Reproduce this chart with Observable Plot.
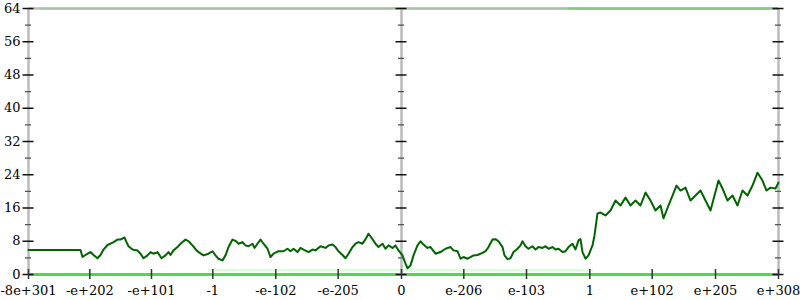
<!DOCTYPE html>
<html>
<head>
<meta charset="utf-8">
<script src="https://cdn.jsdelivr.net/npm/d3@7"></script>
<script src="https://cdn.jsdelivr.net/npm/@observablehq/plot@0.6"></script>
<style>
  html, body { margin: 0; padding: 0; background: #fff; }
  #chart svg { display: block; }
</style>
</head>
<body>
<div id="chart"></div>
<script>
// x positions of the tick labels (bucket index along the axis, 0..750)
const xTickPos = [0, 61.3, 123, 184.3, 247.3, 309.7, 373, 435.3, 498, 561.3, 623.7, 687, 750];
const xTickLabels = ["-8e+301", "-e+202", "-e+101", "-1", "-e-102", "-e-205", "0", "e-206", "e-103", "1", "e+102", "e+205", "e+308"];
const yMajor = [0, 8, 16, 24, 32, 40, 48, 56, 64];
const yMinor = [4, 12, 20, 28, 36, 44, 52, 60];

// dark green series
const lineX = [0, 52, 54, 57, 62, 65, 69, 72, 75, 79, 82, 85, 89, 92, 96, 98, 100, 104, 109, 112, 115, 119, 122, 125, 129, 133, 137, 140, 142, 145, 149, 152, 157, 160, 164, 168, 170, 175, 180, 184, 187, 190, 194, 197, 200, 204, 207, 210, 214, 217, 220, 224, 226, 229, 232, 235, 239, 242, 245, 250, 255, 259, 262, 265, 269, 272, 275, 280, 284, 287, 292, 297, 300, 304, 307, 310, 314, 317, 320, 324, 327, 330, 334, 337, 340, 344, 347, 350, 354, 357, 360, 364, 367, 370, 374, 377, 379, 382, 385, 389, 392, 395, 399, 402, 407, 412, 417, 422, 425, 429, 432, 435, 439, 442, 445, 449, 454, 457, 460, 464, 467, 470, 474, 476, 479, 482, 485, 489, 492, 494, 497, 500, 504, 507, 510, 514, 517, 520, 524, 527, 530, 534, 537, 540, 544, 547, 550, 552, 554, 557, 560, 564, 566, 569, 572, 577, 582, 587, 592, 597, 602, 607, 612, 617, 622, 627, 632, 635, 640, 644, 648, 652, 657, 662, 667, 672, 677, 682, 686, 690, 694, 699, 704, 709, 714, 719, 724, 729, 734, 738, 742, 747, 750];
const lineY = [5.9, 5.9, 4.2, 4.7, 5.4, 4.7, 3.9, 4.7, 6.0, 7.1, 7.4, 7.8, 8.4, 8.4, 8.9, 7.8, 6.8, 6.0, 5.8, 5.0, 3.9, 4.6, 5.4, 5.0, 5.4, 3.9, 4.6, 5.4, 4.7, 5.8, 6.6, 7.4, 8.4, 8.0, 7.0, 5.8, 5.4, 4.6, 5.0, 5.6, 4.6, 3.8, 3.4, 4.6, 6.6, 8.4, 8.1, 7.4, 7.8, 7.0, 6.8, 7.4, 6.4, 7.4, 8.4, 7.4, 6.2, 4.2, 5.0, 5.6, 5.6, 6.2, 5.6, 6.2, 5.4, 6.4, 6.0, 5.4, 6.0, 5.8, 6.8, 6.4, 7.0, 7.2, 6.6, 5.6, 4.7, 3.9, 5.0, 6.6, 7.4, 7.8, 7.4, 8.5, 9.8, 8.5, 7.4, 6.6, 7.4, 6.2, 7.0, 6.4, 7.0, 5.8, 4.6, 2.6, 1.5, 2.2, 4.6, 7.0, 8.0, 7.2, 6.4, 6.6, 5.0, 5.4, 6.2, 6.6, 5.8, 5.6, 3.8, 4.2, 3.8, 4.2, 4.6, 4.7, 5.2, 5.6, 6.6, 8.4, 8.5, 8.0, 6.6, 4.6, 3.7, 3.9, 5.4, 6.2, 7.0, 8.0, 6.8, 6.2, 6.8, 6.0, 6.6, 6.4, 6.8, 6.2, 6.6, 6.0, 6.2, 5.4, 5.6, 6.6, 7.4, 6.0, 8.2, 8.5, 5.4, 3.8, 4.6, 7.0, 9.4, 14.7, 14.9, 14.2, 15.4, 17.8, 16.6, 18.5, 16.6, 17.8, 16.6, 19.7, 17.8, 15.4, 16.6, 13.5, 16.6, 19.0, 21.4, 20.2, 20.9, 17.8, 19.0, 20.2, 17.8, 15.4, 19.0, 22.6, 20.7, 17.8, 19.0, 16.6, 20.2, 19.0, 21.4, 24.5, 22.6, 20.2, 20.9, 20.7, 22.1];

// faint green point bands (start, end, level, opacity)
const bandStart = [0, 180, 12, 540];
const bandEnd = [750, 565, 540, 750];
const bandLevel = [0, 1, 64, 64];
const bandOpacity = [0.9, 0.15, 0.15, 0.45];

const series = lineX.map((x, i) => ({x, y: lineY[i]}));
const bands = bandStart.map((s, i) => ({x1: s, x2: bandEnd[i], y: bandLevel[i], o: bandOpacity[i]}));
const frameX = [xTickPos[0], xTickPos[6], xTickPos[12]];
const labelFont = "'DejaVu Serif', 'Liberation Serif', serif";

const chart = Plot.plot({
  width: 800,
  height: 300,
  marginLeft: 28,
  marginRight: 22,
  marginTop: 8,
  marginBottom: 26,
  style: {fontFamily: labelFont, fontSize: "13px", color: "#000", background: "#fff"},
  x: {domain: [0, 750], axis: null},
  y: {domain: [0, 64], axis: null},
  marks: [
    // gray frame lines
    Plot.ruleX(frameX, {x: d => d, stroke: "#bbb", strokeWidth: 2.5}),
    Plot.ruleY([64, 0], {y: d => d, stroke: "#bbb", strokeWidth: 2.5}),
    // green point bands
    Plot.ruleY(bands, {x1: "x1", x2: "x2", y: "y", stroke: "#3ddd3d", strokeOpacity: "o", strokeWidth: 3}),
    // series line
    Plot.line(series, {x: "x", y: "y", stroke: "#006400", strokeWidth: 2}),
    // y ticks on the three vertical axes
    ...frameX.map(fx => Plot.ruleY(yMinor, {y: d => d, x1: () => fx, x2: () => fx, insetLeft: -3, insetRight: -3, stroke: "#555", strokeWidth: 1.3})),
    ...frameX.map(fx => Plot.ruleY(yMajor, {y: d => d, x1: () => fx, x2: () => fx, insetLeft: -5.5, insetRight: -5.5, stroke: "#111", strokeWidth: 1.5})),
    // x ticks
    Plot.ruleX(xTickPos, {x: d => d, y1: 0, y2: 0, insetTop: -5, insetBottom: -5, stroke: "#333", strokeWidth: 1.5}),
    // labels
    Plot.text(yMajor, {x: 0, y: d => d, text: d => String(d), textAnchor: "end", dx: -8, fill: "#000", fontFamily: labelFont, fontSize: 13}),
    Plot.text(xTickPos, {x: d => d, y: 0, text: (d, i) => xTickLabels[i], dy: 16, fill: "#000", fontFamily: labelFont, fontSize: 13})
  ]
});
document.getElementById("chart").appendChild(chart);
</script>
</body>
</html>
